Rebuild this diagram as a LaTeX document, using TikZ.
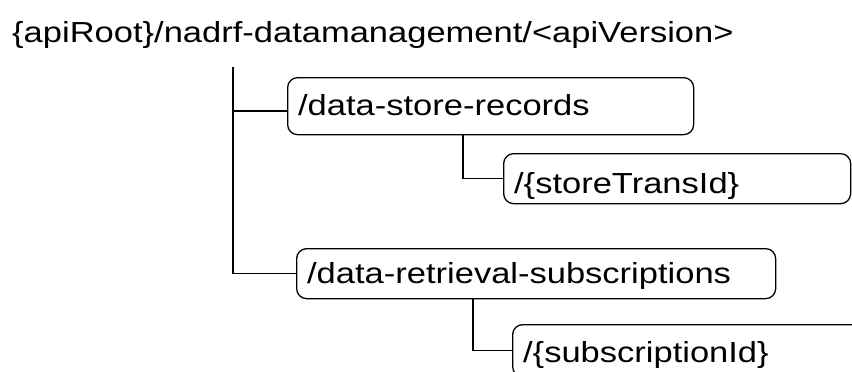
\documentclass[tikz,border=0pt]{standalone}
\usepackage{fontspec}
\usepackage{graphicx}
\setmainfont{Liberation Sans}
\newcommand{\widetxt}[1]{\scalebox{1.19}[1]{#1}}
\begin{document}
\begin{tikzpicture}[x=1pt,y=1pt,
  res/.style={draw, line width=1.3pt, rounded corners=10pt, anchor=north west,
    inner xsep=10.5pt, inner ysep=0pt, align=left,
    font=\fontsize{29}{34}\selectfont},
  conn/.style={line width=1.3pt}]
\clip (0,0) rectangle (852,-372);
\useasboundingbox (0,0) rectangle (852,-372);
\node[anchor=base west, inner sep=0pt, font=\fontsize{29}{34}\selectfont] (root) at (12,-42)
  {\widetxt{\{apiRoot\}/nadrf-datamanagement/<apiVersion>}};
\node[res, text width=385pt, text height=38pt, text depth=19pt] (b1) at (287,-77)
  {\widetxt{/data-store-records}};
\node[res, text width=326pt, text height=40pt, text depth=10pt] (b2) at (503,-153)
  {\widetxt{/\{storeTransId\}}};
\node[res, text width=458pt, text height=35pt, text depth=15pt] (b3) at (296,-248)
  {\widetxt{/data-retrieval-subscriptions}};
\node[res, text width=400pt, text height=38pt, text depth=14pt] (b4) at (512,-324)
  {\widetxt{/\{subscriptionId\}}};
\coordinate (t0) at (233,-67);
\coordinate (j1) at (233,-111);
\coordinate (c1) at (463,-134);
\coordinate (c2) at (473,-298);
\draw[conn] (t0) |- (b3.west);
\draw[conn] (j1) -- (j1 -| b1.west);
\draw[conn] (c1) |- (b2.west);
\draw[conn] (c2) |- (b4.west);
\end{tikzpicture}
\end{document}
